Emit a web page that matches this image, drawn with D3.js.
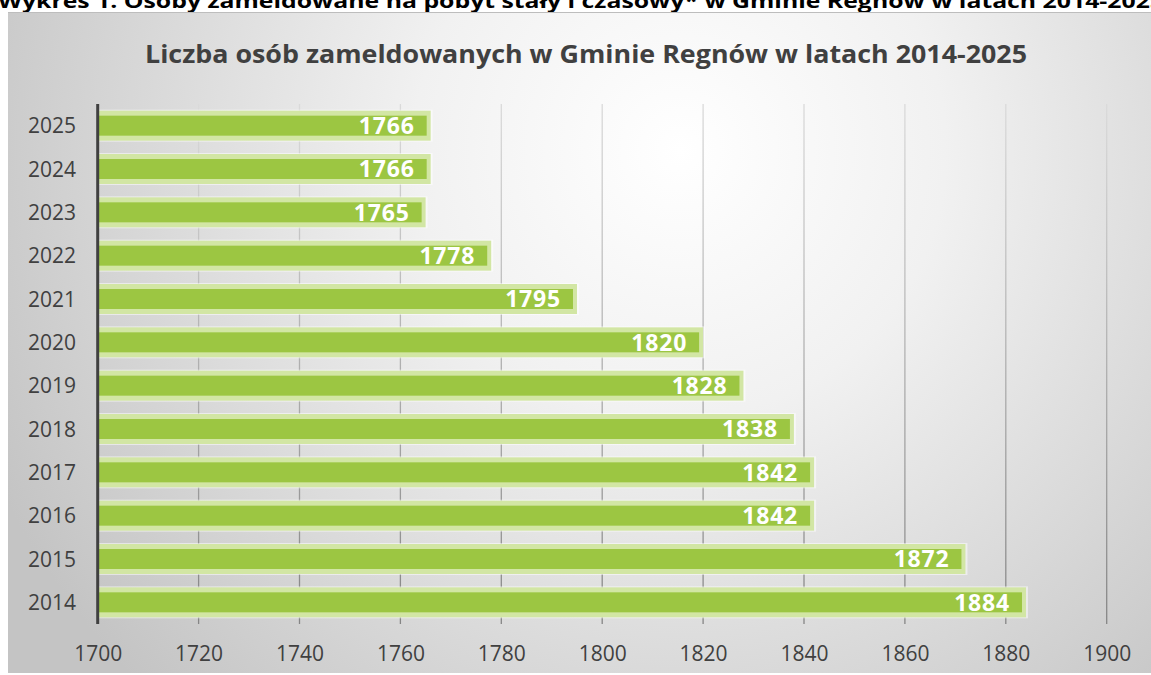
<!DOCTYPE html>
<html>
<head>
<meta charset="utf-8">
<title>Liczba osób zameldowanych</title>
<script src="https://d3js.org/d3.v7.min.js"></script>
<style>
body { margin: 0; background: #fff; }
svg { display: block; }
</style>
</head>
<body>
<svg width="1151" height="675"></svg>
<script>
// data
var years = [2025, 2024, 2023, 2022, 2021, 2020, 2019, 2018, 2017, 2016, 2015, 2014];
var counts = [1766, 1766, 1765, 1778, 1795, 1820, 1828, 1838, 1842, 1842, 1872, 1884];
var xTicks = [1700, 1720, 1740, 1760, 1780, 1800, 1820, 1840, 1860, 1880, 1900];
var heading = "Wykres 1. Osoby zameldowane na pobyt stały i czasowy* w Gminie Regnów w latach 2014-2025";
var title = "Liczba osób zameldowanych w Gminie Regnów w latach 2014-2025";

var svg = d3.select("svg"),
    width = +svg.attr("width"),
    height = +svg.attr("height");

var font = "'Open Sans', Lato, sans-serif";

var defs = svg.append("defs");
var bg = defs.append("radialGradient").attr("id", "bg")
  .attr("gradientUnits", "userSpaceOnUse")
  .attr("cx", 680).attr("cy", 150).attr("r", 760);
bg.append("stop").attr("offset", "0%").attr("stop-color", "#ffffff");
bg.append("stop").attr("offset", "35%").attr("stop-color", "#f1f1f1");
bg.append("stop").attr("offset", "100%").attr("stop-color", "#c4c4c4");

var gg = defs.append("linearGradient").attr("id", "grid")
  .attr("gradientUnits", "userSpaceOnUse")
  .attr("x1", 0).attr("y1", 104).attr("x2", 0).attr("y2", 624);
gg.append("stop").attr("offset", "0%").attr("stop-color", "#dadada");
gg.append("stop").attr("offset", "100%").attr("stop-color", "#858585");

// heading of the page, cut by the top edge (as in the source image)
svg.append("text")
  .attr("x", -2).attr("y", 8)
  .attr("textLength", 1166).attr("lengthAdjust", "spacingAndGlyphs")
  .style("font-family", font)
  .style("font-weight", "bold").style("font-size", "20px")
  .style("fill", "#000")
  .text(heading);

// chart panel
svg.append("rect")
  .attr("x", 8).attr("y", 12).attr("width", width).attr("height", 661)
  .style("fill", "url(#bg)");
svg.append("line")
  .attr("x1", 8).attr("x2", width).attr("y1", 12.5).attr("y2", 12.5)
  .style("stroke", "#bdbdbd").style("stroke-width", 1);

svg.append("text")
  .attr("x", 586).attr("y", 63)
  .attr("text-anchor", "middle")
  .attr("textLength", 882).attr("lengthAdjust", "spacingAndGlyphs")
  .style("font-family", font)
  .style("font-weight", "bold").style("font-size", "25px")
  .style("fill", "#404040")
  .text(title);

var x = d3.scaleLinear().domain([1700, 1900]).range([97.7, 1106.7]);
var y = d3.scaleBand().domain(years).range([104, 624]).padding(0);

var barH = 30;

// grid lines
svg.append("g").selectAll("line")
  .data(xTicks.slice(1))
  .enter().append("line")
  .attr("x1", function(d) { return x(d); })
  .attr("x2", function(d) { return x(d); })
  .attr("y1", 104).attr("y2", 624)
  .style("stroke", "url(#grid)").style("stroke-width", 1.3);

// x axis labels
var xAxis = svg.append("g")
  .attr("transform", "translate(0,624)")
  .call(d3.axisBottom(x).tickValues(xTicks).tickFormat(d3.format("d")).tickSize(0).tickPadding(22));
xAxis.select(".domain").remove();
xAxis.selectAll("text")
  .style("font-family", font)
  .style("font-size", "21px").style("fill", "#404040");

// y axis labels
var yAxis = svg.append("g")
  .attr("transform", "translate(76,0)")
  .call(d3.axisLeft(y).tickSize(0).tickPadding(0));
yAxis.select(".domain").remove();
yAxis.selectAll("text")
  .attr("dy", "0.36em")
  .style("font-family", font)
  .style("font-size", "21px").style("fill", "#404040");

var rows = svg.append("g").selectAll("g")
  .data(years)
  .enter().append("g")
  .attr("transform", function(d) { return "translate(0," + (y(d) + y.bandwidth() / 2) + ")"; });

rows.append("rect")
  .attr("x", x(1700) + 1)
  .attr("y", -barH / 2 - 1)
  .attr("width", function(d, i) { return x(counts[i]) - x(1700) + 1; })
  .attr("height", barH + 2)
  .style("fill", "#ffffff").style("opacity", 0.5);

rows.append("rect")
  .attr("x", x(1700) + 1)
  .attr("y", -barH / 2)
  .attr("width", function(d, i) { return x(counts[i]) - x(1700) - 1; })
  .attr("height", barH)
  .style("fill", "#d2e6a4");

rows.append("rect")
  .attr("x", x(1700) + 1)
  .attr("y", -barH / 2 + 5)
  .attr("width", function(d, i) { return x(counts[i]) - x(1700) - 5; })
  .attr("height", barH - 10)
  .style("fill", "#9cc642");

rows.append("text")
  .attr("x", function(d, i) { return x(counts[i]) - 16; })
  .attr("y", 0).attr("dy", "0.36em")
  .attr("text-anchor", "end")
  .style("font-family", font)
  .style("font-weight", "bold").style("font-size", "23px")
  .style("letter-spacing", "0.8px")
  .style("fill", "#ffffff")
  .text(function(d, i) { return counts[i]; });

// vertical axis line
svg.append("line")
  .attr("x1", x(1700)).attr("x2", x(1700))
  .attr("y1", 104).attr("y2", 624)
  .style("stroke", "#404040").style("stroke-width", 3);
</script>
</body>
</html>
